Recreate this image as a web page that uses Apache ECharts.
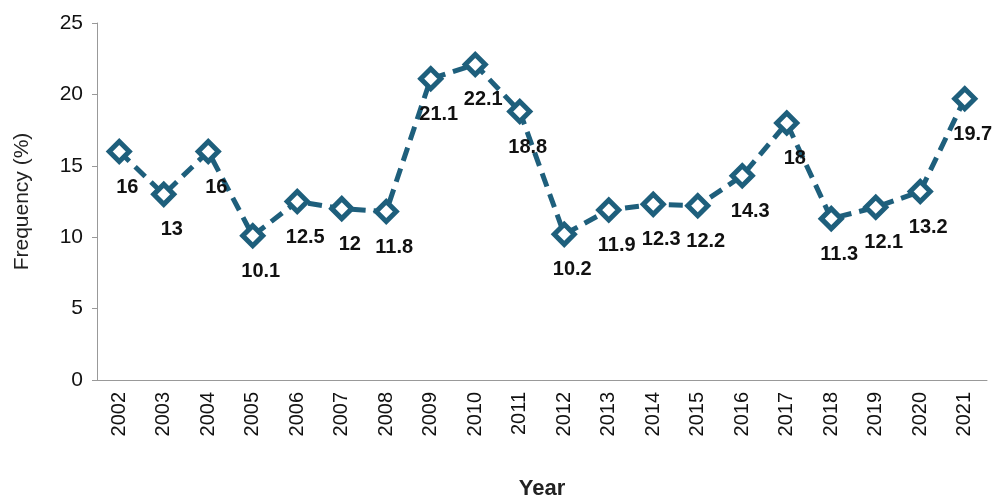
<!DOCTYPE html>
<html><head><meta charset="utf-8">
<script src="https://cdn.jsdelivr.net/npm/echarts@6/dist/echarts.min.js"></script>
<style>html,body{margin:0;padding:0;background:#fff}#c{width:1003px;height:504px}</style>
</head><body><div id="c"></div>
<script>
const years=['2002','2003','2004','2005','2006','2007','2008','2009','2010','2011','2012','2013','2014','2015','2016','2017','2018','2019','2020','2021'];
const freq=[16,13,16,10.1,12.5,12,11.8,21.1,22.1,18.8,10.2,11.9,12.3,12.2,14.3,18,11.3,12.1,13.2,19.7];
const yTicks=[0,5,10,15,20,25];
const chart=echarts.init(document.getElementById('c'));
const font='Liberation Sans, Arial, sans-serif';
chart.setOption({
  animation:false,
  grid:{left:97,right:16,top:23,bottom:124,outerBoundsMode:'none',containLabel:false},
  xAxis:{type:'category',data:years,boundaryGap:true,
    name:'Year',nameLocation:'middle',nameGap:98,
    nameTextStyle:{fontSize:22,fontWeight:'bold',color:'#222',fontFamily:font},
    axisLine:{lineStyle:{color:'#999'}},axisTick:{show:false},
    axisLabel:{rotate:90,fontSize:20,color:'#111',fontFamily:font,margin:12}},
  yAxis:{type:'value',min:yTicks[0],max:yTicks[yTicks.length-1],interval:5,
    name:'Frequency (%)',nameLocation:'middle',nameGap:64,
    nameTextStyle:{fontSize:21,color:'#222',fontFamily:font},
    axisLine:{show:true,lineStyle:{color:'#999'}},axisTick:{show:true,lineStyle:{color:'#999'}},
    splitLine:{show:false},
    axisLabel:{fontSize:21,color:'#111',fontFamily:font,margin:14}},
  series:[{type:'line',data:freq,symbol:'diamond',symbolSize:20,
    lineStyle:{color:'#1e5f7c',width:5,type:[14,8]},
    itemStyle:{color:'#fff',borderColor:'#1e5f7c',borderWidth:5},
    label:{show:true,position:'bottom',offset:[8,8],fontSize:20,fontWeight:'bold',color:'#111',fontFamily:font}}]
});
</script></body></html>
